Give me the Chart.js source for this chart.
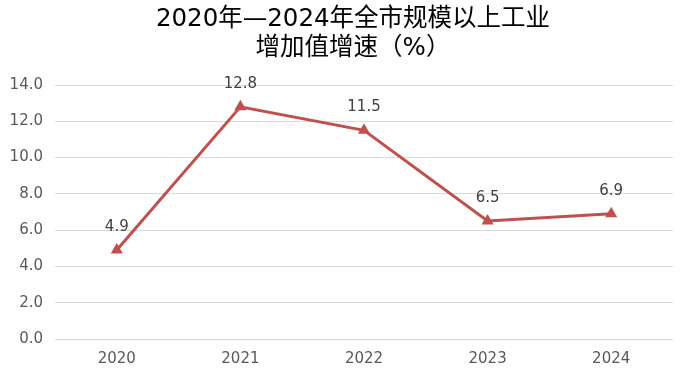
<!DOCTYPE html>
<html>
<head>
<meta charset="utf-8">
<script src="https://cdn.jsdelivr.net/npm/chart.js@4/dist/chart.umd.min.js"></script>
<style>
  html, body { margin: 0; padding: 0; background: #fff; }
  #wrap { width: 691px; height: 372px; }
</style>
</head>
<body>
<div id="wrap"><canvas id="chart"></canvas></div>
<script>
// Chart data
const years = ['2020', '2021', '2022', '2023', '2024'];
const growth = [4.9, 12.8, 11.5, 6.5, 6.9];
const titleLines = ['2020年—2024年全市规模以上工业', '增加值增速（%）'];

const lineColor = '#C0504D';
const labelFont = "'DejaVu Sans', sans-serif";

// Two-line title, centred a little right of the canvas middle like the original
const chartTitle = {
    id: 'chartTitle',
    afterDraw(chart) {
        const ctx = chart.ctx;
        ctx.save();
        ctx.font = "24.5px 'DejaVu Sans', 'Noto Sans CJK SC', sans-serif";
        ctx.fillStyle = '#000';
        ctx.textAlign = 'center';
        ctx.textBaseline = 'middle';
        titleLines.forEach((line, i) => {
            ctx.fillText(line, 353, 20 + i * 28.5);
        });
        ctx.restore();
    }
};

// Value labels above each point
const valueLabels = {
    id: 'valueLabels',
    afterDatasetsDraw(chart) {
        const ctx = chart.ctx;
        const meta = chart.getDatasetMeta(0);
        ctx.save();
        ctx.font = '15px ' + labelFont;
        ctx.fillStyle = '#404040';
        ctx.textAlign = 'center';
        ctx.textBaseline = 'middle';
        meta.data.forEach((pt, i) => {
            ctx.fillText(growth[i].toFixed(1), pt.x, pt.y - 23);
        });
        ctx.restore();
    }
};

new Chart(document.getElementById('chart'), {
    type: 'line',
    data: {
        labels: years,
        datasets: [{
            data: growth,
            borderColor: lineColor,
            backgroundColor: lineColor,
            borderWidth: 3,
            tension: 0,
            pointStyle: 'triangle',
            pointRadius: 7,
            pointBorderWidth: 0,
            pointBackgroundColor: lineColor
        }]
    },
    options: {
        responsive: true,
        maintainAspectRatio: false,
        animation: false,
        layout: { padding: { left: 0, right: 18, top: 85, bottom: 0 } },
        plugins: {
            legend: { display: false },
            tooltip: { enabled: false },
            title: { display: false }
        },
        scales: {
            x: {
                offset: true,
                grid: { display: false, drawTicks: false },
                border: { display: false },
                ticks: { color: '#595959', font: { family: labelFont, size: 15 }, padding: 11 },
                afterFit: (scale) => { scale.height = 33; }
            },
            y: {
                min: 0,
                max: 14,
                grid: { color: '#d9d9d9', lineWidth: 1, drawTicks: false },
                border: { display: false },
                ticks: {
                    stepSize: 2,
                    color: '#595959',
                    font: { family: labelFont, size: 15 },
                    padding: 12,
                    callback: (v) => v.toFixed(1)
                },
                afterFit: (scale) => { scale.width = 55; }
            }
        }
    },
    plugins: [valueLabels, chartTitle]
});
</script>
</body>
</html>
